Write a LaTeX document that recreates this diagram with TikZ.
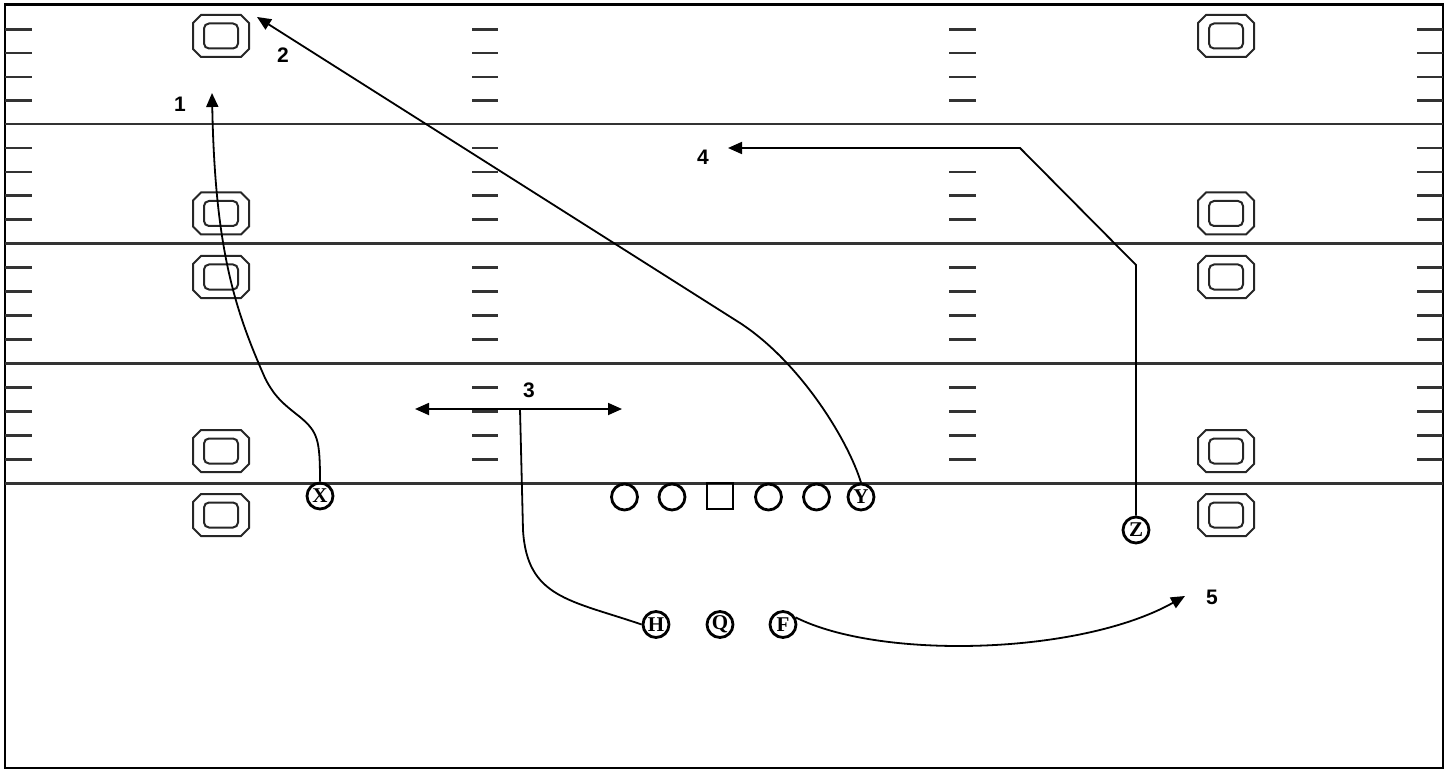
\documentclass[tikz,border=0pt]{standalone}
\usepackage{fontspec}
\setmainfont{Liberation Serif}
\newfontfamily\lsans{Liberation Sans}
\usetikzlibrary{arrows.meta}
\newcommand\fieldnum[2]{%
  \draw[numline] (#1-28,#2-13) -- (#1-20,#2-21) -- (#1+20,#2-21) -- (#1+28,#2-13) -- (#1+28,#2+13) -- (#1+20,#2+21) -- (#1-20,#2+21) -- (#1-28,#2+13) -- cycle;
  \draw[numline,rounded corners=2.5pt] (#1-17,#2-12.5) rectangle (#1+17,#2+12.5);}
\begin{document}
\begin{tikzpicture}[x=0.5pt,y=-0.5pt,
  fieldline/.style={line width=1.1pt,draw=black!80},
  hashmark/.style={line width=1.2pt,draw=black!80},
  numline/.style={line width=1pt,draw=black!85},
  player/.style={circle,draw,line width=1.4pt,minimum size=13pt,inner sep=0pt,font=\fontsize{10.5}{11}\selectfont\bfseries},
  centerbox/.style={rectangle,draw,line width=1.4pt,minimum size=13pt,inner sep=0pt},
  route/.style={line width=0.9pt},
  tip/.style={-{Triangle[length=7pt,width=6pt]}},
  lbl/.style={font=\lsans\bfseries\fontsize{10.5}{12}\selectfont}
]
\useasboundingbox (0,0) rectangle (1450,770);
% frame
\draw[line width=1pt] (5,4.5) rectangle (1443,768);
\draw[line width=1.6pt] (5,4.5) -- (1443,4.5);
% yard lines
\foreach \yy in {124,243.5,363.5,483.5}
  \draw[fieldline] (5,\yy) -- (1443,\yy);
% hash marks
\foreach \yy in {29.6,53.2,76.8,100.4, 147.9,171.8,195.7,219.6, 267.5,291.5,315.5,339.5, 387.5,411.5,435.5,459.5} {
    \draw[hashmark] (5,\yy) -- (32,\yy);
    \draw[hashmark] (472,\yy) -- (498,\yy);
    \draw[hashmark] (949,\yy) -- (976,\yy);
    \draw[hashmark] (1417,\yy) -- (1443,\yy);
}
% field numbers
\foreach \cy in {36,213.5,277,451,515} {
  \fieldnum{221}{\cy}
  \fieldnum{1226}{\cy}
}
% players
\node[player] (X) at (320,496) {X};
\node[player] (L1) at (624.5,497) {};
\node[player] (L2) at (672,497) {};
\node[centerbox] (C) at (720,496) {};
\node[player] (R1) at (768.5,497) {};
\node[player] (R2) at (816.5,497) {};
\node[player] (Y) at (861,497) {Y};
\node[player] (Z) at (1136,530) {Z};
\node[player] (H) at (656,624.5) {H};
\node[player] (Q) at (720,624.5) {Q};
\node[player] (F) at (783,624.5) {F};
% route end points
\coordinate (e1) at (212,93);
\coordinate (b2) at (740,323);
\coordinate (e2) at (257,17);
\coordinate (b3) at (520,409);
\coordinate (l3) at (415,409);
\coordinate (r3) at (622,409);
\coordinate (b4a) at (1136,265);
\coordinate (b4b) at (1020,148);
\coordinate (e4) at (728,148);
\coordinate (e5) at (1185,596);
% routes
\draw[route,tip] (X.north) .. controls (320,440) and (318,432) .. (300,417)
  .. controls (285,405) and (275,398) .. (265,378)
  .. controls (235,310) and (215,250) .. (e1);
\draw[route,tip] (Y.north) .. controls (848,440) and (800,362) .. (b2) -- (e2);
\draw[route] (H.west) .. controls (570,600) and (527,598) .. (523,530) -- (b3);
\draw[route,{Triangle[length=7pt,width=6pt]}-{Triangle[length=7pt,width=6pt]}] (l3) -- (r3);
\draw[route,tip] (Z.north) -- (b4a) -- (b4b) -- (e4);
\draw[route,tip] (F.30) .. controls (880,660) and (1080,655) .. (e5);
% labels
\node[lbl] (n1) at (180,104) {1};
\node[lbl] (n2) at (283,55) {2};
\node[lbl] (n3) at (529,390) {3};
\node[lbl] (n4) at (703,157) {4};
\node[lbl] (n5) at (1212,597) {5};
\end{tikzpicture}
\end{document}
